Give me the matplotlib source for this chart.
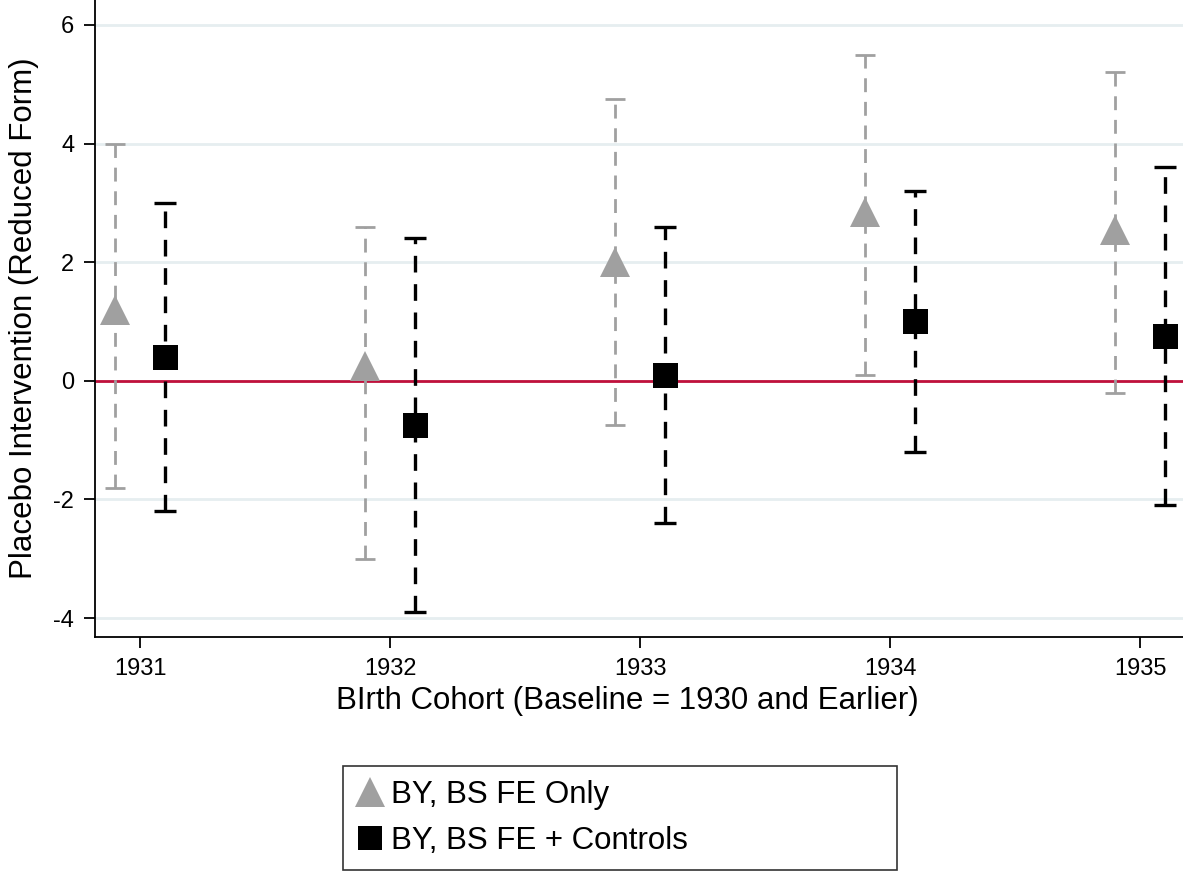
import matplotlib
matplotlib.use("Agg")
import matplotlib.pyplot as plt
import numpy as np

# --- data ---
cohorts = [1931, 1932, 1933, 1934, 1935]

fe_only = [1.2, 0.25, 2.0, 2.85, 2.55]
fe_only_lo = [-1.8, -3.0, -0.75, 0.1, -0.2]
fe_only_hi = [4.0, 2.6, 4.75, 5.5, 5.2]

fe_ctrl = [0.4, -0.75, 0.1, 1.0, 0.75]
fe_ctrl_lo = [-2.2, -3.9, -2.4, -1.2, -2.1]
fe_ctrl_hi = [3.0, 2.4, 2.6, 3.2, 3.6]

yticks = [-4, -2, 0, 2, 4, 6]

GRAY, BLACK, RED, GRID = "#a0a0a0", "#000000", "#c0103c", "#e6eef0"

plt.rcParams["font.family"] = ["Liberation Sans", "DejaVu Sans"]
plt.rcParams["axes.unicode_minus"] = False

fig = plt.figure(figsize=(11.83, 8.71), dpi=100)
ax = fig.add_axes([95 / 1183, 234 / 871, 1088 / 1183, 637 / 871])

for y in yticks:
    ax.axhline(y, color=GRID, linewidth=2, zorder=0)
ax.axhline(0, color=RED, linewidth=2, zorder=1)

x = np.array(cohorts, dtype=float)


def serie(xs, mid, lo, hi, color, marker, ms, lw, cap, label):
    mid, lo, hi = np.array(mid), np.array(lo), np.array(hi)
    eb = ax.errorbar(xs, mid, yerr=[mid - lo, hi - mid], fmt="none",
                     ecolor=color, elinewidth=lw, capsize=cap,
                     capthick=lw, zorder=2)
    eb[2][0].set_linestyle((0, (5, 3.5)))
    ax.plot(xs, mid, linestyle="none", marker=marker, markersize=ms,
            color=color, markeredgewidth=0, zorder=3, label=label)


serie(x - 0.1, fe_only, fe_only_lo, fe_only_hi, GRAY, "^", 22, 2.0, 7,
      "BY, BS FE Only")
serie(x + 0.1, fe_ctrl, fe_ctrl_lo, fe_ctrl_hi, BLACK, "s", 18, 2.4, 8,
      "BY, BS FE + Controls")

ax.set_xlim(1930.82, 1935.172)
ax.set_ylim(-4.32, 6.42)
ax.set_xticks(cohorts)
ax.set_yticks(yticks)
ax.tick_params(axis="both", direction="out", length=8, width=1.3,
               labelsize=17, colors=BLACK, pad=7)
ax.spines["top"].set_visible(False)
ax.spines["right"].set_visible(False)
ax.spines["left"].set_linewidth(1.3)
ax.spines["bottom"].set_linewidth(1.3)

ax.set_xlabel("BIrth Cohort (Baseline = 1930 and Earlier)", fontsize=22.5)
ax.xaxis.set_label_coords(0.489, -0.077)
ax.set_ylabel("Placebo Intervention (Reduced Form)", fontsize=22.5,
              labelpad=10)

leg = fig.legend(loc="lower left",
                 bbox_to_anchor=(343 / 1183, 1 / 871, 554 / 1183, 0.11),
                 mode="expand", frameon=True, fancybox=False, fontsize=22.5,
                 handletextpad=0.3, borderpad=0.45, labelspacing=0.5,
                 handlelength=0.8, markerscale=0.95, borderaxespad=0)
leg.get_frame().set_edgecolor(BLACK)
leg.get_frame().set_linewidth(1.2)

fig.savefig("out.png", dpi=100, facecolor="white")
